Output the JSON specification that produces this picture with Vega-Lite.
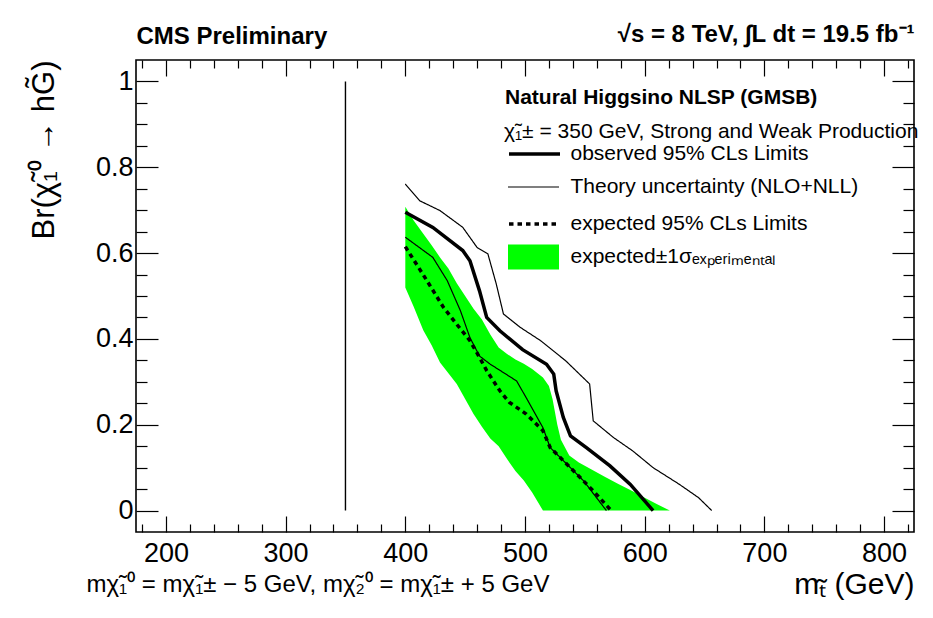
{
  "$schema": "https://vega.github.io/schema/vega-lite/v6.json",
  "width": 778,
  "height": 472,
  "autosize": {"type": "none"},
  "padding": {"left": 136, "top": 60, "right": 19, "bottom": 86},
  "background": "white",
  "config": {
    "view": {"stroke": "black", "strokeWidth": 1.6},
    "font": "Liberation Sans",
    "axis": {"domain": false, "grid": false, "tickColor": "black", "tickWidth": 1.2, "labelColor": "black", "titleColor": "black", "labelFont": "Liberation Sans", "titleFont": "Liberation Sans"},
    "legend": {"orient": "none", "direction": "vertical", "padding": 0, "labelFont": "Liberation Sans", "labelFontSize": 21, "labelColor": "black", "labelLimit": 600,
      "titleFont": "Liberation Sans", "titleFontSize": 21, "titleFontWeight": "bold", "titleColor": "black", "titleLimit": 600,
      "symbolSize": 400, "symbolOffset": 0, "labelOffset": 26, "symbolType": "M-2.55,0H2.55"}
  },
  "datasets": {
    "band": [
      {"m": 400, "up": 0.708, "lo": 0.52, "series": "expected\u00b11\u03c3\u2091\u2093\u209a\u2091\u1d63\u1d62\u2098\u2091\u2099\u209c\u2090\u2097"},
      {"m": 407, "up": 0.676, "lo": 0.475, "series": "expected\u00b11\u03c3\u2091\u2093\u209a\u2091\u1d63\u1d62\u2098\u2091\u2099\u209c\u2090\u2097"},
      {"m": 415, "up": 0.645, "lo": 0.42, "series": "expected\u00b11\u03c3\u2091\u2093\u209a\u2091\u1d63\u1d62\u2098\u2091\u2099\u209c\u2090\u2097"},
      {"m": 422, "up": 0.618, "lo": 0.385, "series": "expected\u00b11\u03c3\u2091\u2093\u209a\u2091\u1d63\u1d62\u2098\u2091\u2099\u209c\u2090\u2097"},
      {"m": 429, "up": 0.59, "lo": 0.345, "series": "expected\u00b11\u03c3\u2091\u2093\u209a\u2091\u1d63\u1d62\u2098\u2091\u2099\u209c\u2090\u2097"},
      {"m": 436, "up": 0.564, "lo": 0.32, "series": "expected\u00b11\u03c3\u2091\u2093\u209a\u2091\u1d63\u1d62\u2098\u2091\u2099\u209c\u2090\u2097"},
      {"m": 443, "up": 0.53, "lo": 0.295, "series": "expected\u00b11\u03c3\u2091\u2093\u209a\u2091\u1d63\u1d62\u2098\u2091\u2099\u209c\u2090\u2097"},
      {"m": 450, "up": 0.5, "lo": 0.26, "series": "expected\u00b11\u03c3\u2091\u2093\u209a\u2091\u1d63\u1d62\u2098\u2091\u2099\u209c\u2090\u2097"},
      {"m": 457, "up": 0.47, "lo": 0.225, "series": "expected\u00b11\u03c3\u2091\u2093\u209a\u2091\u1d63\u1d62\u2098\u2091\u2099\u209c\u2090\u2097"},
      {"m": 464, "up": 0.445, "lo": 0.195, "series": "expected\u00b11\u03c3\u2091\u2093\u209a\u2091\u1d63\u1d62\u2098\u2091\u2099\u209c\u2090\u2097"},
      {"m": 471, "up": 0.41, "lo": 0.168, "series": "expected\u00b11\u03c3\u2091\u2093\u209a\u2091\u1d63\u1d62\u2098\u2091\u2099\u209c\u2090\u2097"},
      {"m": 478, "up": 0.38, "lo": 0.15, "series": "expected\u00b11\u03c3\u2091\u2093\u209a\u2091\u1d63\u1d62\u2098\u2091\u2099\u209c\u2090\u2097"},
      {"m": 485, "up": 0.365, "lo": 0.12, "series": "expected\u00b11\u03c3\u2091\u2093\u209a\u2091\u1d63\u1d62\u2098\u2091\u2099\u209c\u2090\u2097"},
      {"m": 492, "up": 0.352, "lo": 0.092, "series": "expected\u00b11\u03c3\u2091\u2093\u209a\u2091\u1d63\u1d62\u2098\u2091\u2099\u209c\u2090\u2097"},
      {"m": 499, "up": 0.342, "lo": 0.07, "series": "expected\u00b11\u03c3\u2091\u2093\u209a\u2091\u1d63\u1d62\u2098\u2091\u2099\u209c\u2090\u2097"},
      {"m": 506, "up": 0.33, "lo": 0.042, "series": "expected\u00b11\u03c3\u2091\u2093\u209a\u2091\u1d63\u1d62\u2098\u2091\u2099\u209c\u2090\u2097"},
      {"m": 515, "up": 0.31, "lo": 0.0, "series": "expected\u00b11\u03c3\u2091\u2093\u209a\u2091\u1d63\u1d62\u2098\u2091\u2099\u209c\u2090\u2097"},
      {"m": 520, "up": 0.29, "lo": 0.0, "series": "expected\u00b11\u03c3\u2091\u2093\u209a\u2091\u1d63\u1d62\u2098\u2091\u2099\u209c\u2090\u2097"},
      {"m": 523, "up": 0.26, "lo": 0.0, "series": "expected\u00b11\u03c3\u2091\u2093\u209a\u2091\u1d63\u1d62\u2098\u2091\u2099\u209c\u2090\u2097"},
      {"m": 527, "up": 0.2, "lo": 0.0, "series": "expected\u00b11\u03c3\u2091\u2093\u209a\u2091\u1d63\u1d62\u2098\u2091\u2099\u209c\u2090\u2097"},
      {"m": 530, "up": 0.165, "lo": 0.0, "series": "expected\u00b11\u03c3\u2091\u2093\u209a\u2091\u1d63\u1d62\u2098\u2091\u2099\u209c\u2090\u2097"},
      {"m": 537, "up": 0.128, "lo": 0.0, "series": "expected\u00b11\u03c3\u2091\u2093\u209a\u2091\u1d63\u1d62\u2098\u2091\u2099\u209c\u2090\u2097"},
      {"m": 545, "up": 0.112, "lo": 0.0, "series": "expected\u00b11\u03c3\u2091\u2093\u209a\u2091\u1d63\u1d62\u2098\u2091\u2099\u209c\u2090\u2097"},
      {"m": 556, "up": 0.095, "lo": 0.0, "series": "expected\u00b11\u03c3\u2091\u2093\u209a\u2091\u1d63\u1d62\u2098\u2091\u2099\u209c\u2090\u2097"},
      {"m": 567, "up": 0.078, "lo": 0.0, "series": "expected\u00b11\u03c3\u2091\u2093\u209a\u2091\u1d63\u1d62\u2098\u2091\u2099\u209c\u2090\u2097"},
      {"m": 578, "up": 0.062, "lo": 0.0, "series": "expected\u00b11\u03c3\u2091\u2093\u209a\u2091\u1d63\u1d62\u2098\u2091\u2099\u209c\u2090\u2097"},
      {"m": 590, "up": 0.045, "lo": 0.0, "series": "expected\u00b11\u03c3\u2091\u2093\u209a\u2091\u1d63\u1d62\u2098\u2091\u2099\u209c\u2090\u2097"},
      {"m": 600, "up": 0.03, "lo": 0.0, "series": "expected\u00b11\u03c3\u2091\u2093\u209a\u2091\u1d63\u1d62\u2098\u2091\u2099\u209c\u2090\u2097"},
      {"m": 610, "up": 0.015, "lo": 0.0, "series": "expected\u00b11\u03c3\u2091\u2093\u209a\u2091\u1d63\u1d62\u2098\u2091\u2099\u209c\u2090\u2097"},
      {"m": 621, "up": 0.0, "lo": 0.0, "series": "expected\u00b11\u03c3\u2091\u2093\u209a\u2091\u1d63\u1d62\u2098\u2091\u2099\u209c\u2090\u2097"}
    ],
    "theory": [
      {"curve": "up", "m": 400, "br": 0.761}, {"curve": "up", "m": 412, "br": 0.722}, {"curve": "up", "m": 429, "br": 0.699},
      {"curve": "up", "m": 448, "br": 0.66}, {"curve": "up", "m": 460, "br": 0.613}, {"curve": "up", "m": 469, "br": 0.598},
      {"curve": "up", "m": 476, "br": 0.528}, {"curve": "up", "m": 482, "br": 0.458}, {"curve": "up", "m": 496, "br": 0.427},
      {"curve": "up", "m": 513, "br": 0.396}, {"curve": "up", "m": 534, "br": 0.349}, {"curve": "up", "m": 554, "br": 0.295},
      {"curve": "up", "m": 557, "br": 0.209}, {"curve": "up", "m": 574, "br": 0.17}, {"curve": "up", "m": 590, "br": 0.139},
      {"curve": "up", "m": 607, "br": 0.1}, {"curve": "up", "m": 629, "br": 0.061}, {"curve": "up", "m": 645, "br": 0.03},
      {"curve": "up", "m": 656, "br": 0.0},
      {"curve": "down", "m": 400, "br": 0.637}, {"curve": "down", "m": 423, "br": 0.59}, {"curve": "down", "m": 435, "br": 0.536},
      {"curve": "down", "m": 446, "br": 0.466}, {"curve": "down", "m": 454, "br": 0.403}, {"curve": "down", "m": 462, "br": 0.36},
      {"curve": "down", "m": 471, "br": 0.341}, {"curve": "down", "m": 493, "br": 0.302}, {"curve": "down", "m": 501, "br": 0.263},
      {"curve": "down", "m": 515, "br": 0.193}, {"curve": "down", "m": 521, "br": 0.147}, {"curve": "down", "m": 535, "br": 0.108},
      {"curve": "down", "m": 549, "br": 0.069}, {"curve": "down", "m": 568, "br": 0.0}
    ],
    "expected": [
      {"m": 400, "br": 0.615}, {"m": 418, "br": 0.536}, {"m": 432, "br": 0.473}, {"m": 443, "br": 0.434},
      {"m": 454, "br": 0.396}, {"m": 462, "br": 0.357}, {"m": 468, "br": 0.326}, {"m": 479, "br": 0.279},
      {"m": 487, "br": 0.252}, {"m": 501, "br": 0.225}, {"m": 515, "br": 0.186}, {"m": 521, "br": 0.147},
      {"m": 535, "br": 0.108}, {"m": 557, "br": 0.046}, {"m": 572, "br": 0.0}
    ],
    "observed": [
      {"m": 400, "br": 0.695}, {"m": 423, "br": 0.66}, {"m": 448, "br": 0.606}, {"m": 454, "br": 0.582},
      {"m": 462, "br": 0.512}, {"m": 468, "br": 0.45}, {"m": 479, "br": 0.419}, {"m": 498, "br": 0.375},
      {"m": 518, "br": 0.341}, {"m": 524, "br": 0.318}, {"m": 526, "br": 0.279}, {"m": 532, "br": 0.217},
      {"m": 538, "br": 0.174}, {"m": 551, "br": 0.147}, {"m": 571, "br": 0.104}, {"m": 588, "br": 0.061},
      {"m": 607, "br": 0.0}
    ],
    "chargino": [{"m": 350, "lo": 0, "hi": 1, "note": "\u03c7\u0303\u2081\u00b1 = 350 GeV, Strong and Weak Production"}]
  },
  "layer": [
    {
      "data": {"name": "band"},
      "mark": {"type": "area", "opacity": 1, "interpolate": "linear"},
      "encoding": {
        "x": {"field": "m", "type": "quantitative",
          "scale": {"domain": [175, 825], "nice": false, "zero": false},
          "axis": {"orient": "bottom", "values": [200, 300, 400, 500, 600, 700, 800], "format": "d", "ticks": false, "labelFontSize": 27, "labelPadding": 8, "labelFlush": false,
            "title": "m\u209c\u0303 (GeV)", "titleFontSize": 30, "titleFontWeight": "normal", "titleAnchor": "end", "titleAlign": "right", "titleBaseline": "alphabetic", "titleX": 778, "titleY": 61}},
        "y": {"field": "up", "type": "quantitative",
          "scale": {"domain": [-0.05, 1.05], "nice": false, "zero": false},
          "axis": {"orient": "left", "values": [0, 0.2, 0.4, 0.6, 0.8, 1], "format": "~g", "ticks": false, "labelFontSize": 27, "labelPadding": 3, "labelFlush": false,
            "title": "Br(\u03c7\u0303\u2081\u2070 \u2192 hG\u0303)", "titleFontSize": 31, "titleFontWeight": "normal", "titleAngle": -90, "titleAlign": "right", "titleBaseline": "alphabetic", "titleX": -83, "titleY": 0}},
        "y2": {"field": "lo"},
        "color": {"field": "series", "type": "nominal",
          "scale": {"range": ["#00ff00"]},
          "legend": {"title": null, "legendX": 386.5, "legendY": 186, "symbolType": "M-2.55,-1.25H2.55V1.25H-2.55Z"}
        }
      }
    },
    {
      "data": {"name": "theory"},
      "mark": {"type": "line", "color": "black", "strokeWidth": 1.2},
      "encoding": {
        "x": {"field": "m", "type": "quantitative",
          "axis": {"orient": "bottom", "values": [200, 300, 400, 500, 600, 700, 800], "labels": false, "tickSize": 16, "offset": -16, "title": null}},
        "y": {"field": "br", "type": "quantitative",
          "axis": {"orient": "left", "values": [0, 0.2, 0.4, 0.6, 0.8, 1], "labels": false, "tickSize": 22, "offset": -22, "title": null}},
        "detail": {"field": "curve"},
        "strokeDash": {"datum": "Theory uncertainty (NLO+NLL)", "type": "nominal",
          "scale": {"range": [[1, 0]]},
          "legend": {"title": null, "legendX": 386.5, "legendY": 116, "symbolStrokeWidth": 1.2, "symbolStrokeColor": "black"}}
      }
    },
    {
      "data": {"name": "expected"},
      "mark": {"type": "line", "color": "black", "strokeWidth": 3.5, "strokeDash": [4.5, 4]},
      "encoding": {
        "x": {"field": "m", "type": "quantitative",
          "axis": {"orient": "bottom", "values": [180, 220, 240, 260, 280, 320, 340, 360, 380, 420, 440, 460, 480, 520, 540, 560, 580, 620, 640, 660, 680, 720, 740, 760, 780, 820], "labels": false, "tickSize": 8, "offset": -8,
            "title": "m\u03c7\u0303\u2081\u2070 = m\u03c7\u0303\u2081\u00b1 \u2212 5 GeV, m\u03c7\u0303\u2082\u2070 = m\u03c7\u0303\u2081\u00b1 + 5 GeV", "titleFontSize": 24, "titleFontWeight": "normal", "titleAnchor": "start", "titleAlign": "left", "titleBaseline": "alphabetic", "titleX": -50, "titleY": 67}},
        "y": {"field": "br", "type": "quantitative",
          "axis": {"orient": "left", "values": [0.05, 0.1, 0.15, 0.25, 0.3, 0.35, 0.45, 0.5, 0.55, 0.65, 0.7, 0.75, 0.85, 0.9, 0.95], "labels": false, "tickSize": 11, "offset": -11, "title": null}},
        "strokeWidth": {"datum": "expected 95% CLs Limits", "type": "nominal",
          "scale": {"range": [3.5, 3.5]},
          "legend": {"title": null, "legendX": 386.5, "legendY": 152, "symbolDash": [4.5, 4], "labelOffset": 24}}
      }
    },
    {
      "data": {"name": "observed"},
      "mark": {"type": "line", "color": "black", "strokeWidth": 3.5},
      "encoding": {
        "x": {"field": "m", "type": "quantitative",
          "axis": {"orient": "top", "values": [200, 300, 400, 500, 600, 700, 800], "labels": false, "tickSize": 16, "offset": -16,
            "title": "CMS Preliminary", "titleFontSize": 24, "titleFontWeight": "bold", "titleAnchor": "start", "titleAlign": "left", "titleBaseline": "alphabetic", "titleX": 0, "titleY": -33}},
        "y": {"field": "br", "type": "quantitative",
          "axis": {"orient": "right", "values": [0, 0.2, 0.4, 0.6, 0.8, 1], "labels": false, "tickSize": 22, "offset": -22, "title": null}},
        "stroke": {"datum": "observed 95% CLs Limits", "type": "nominal",
          "scale": {"range": ["black"]},
          "legend": {"title": null, "legendX": 386.5, "legendY": 82, "symbolStrokeWidth": 3.5, "labelOffset": 24}}
      }
    },
    {
      "data": {"name": "chargino"},
      "mark": {"type": "rule", "color": "black", "strokeWidth": 1.4},
      "encoding": {
        "x": {"field": "m", "type": "quantitative",
          "axis": {"orient": "top", "values": [180, 220, 240, 260, 280, 320, 340, 360, 380, 420, 440, 460, 480, 520, 540, 560, 580, 620, 640, 660, 680, 720, 740, 760, 780, 820], "labels": false, "tickSize": 8, "offset": -8,
            "title": "\u221as = 8 TeV, \u222bL dt = 19.5 fb\u207b\u00b9", "titleFontSize": 24, "titleFontWeight": "bold", "titleAnchor": "end", "titleAlign": "right", "titleBaseline": "alphabetic", "titleX": 778, "titleY": -27}},
        "y": {"field": "lo", "type": "quantitative",
          "axis": {"orient": "right", "values": [0.05, 0.1, 0.15, 0.25, 0.3, 0.35, 0.45, 0.5, 0.55, 0.65, 0.7, 0.75, 0.85, 0.9, 0.95], "labels": false, "tickSize": 11, "offset": -11, "title": null}},
        "y2": {"field": "hi"},
        "opacity": {"field": "note", "type": "nominal",
          "scale": {"range": [1, 1]},
          "legend": {"title": "Natural Higgsino NLSP (GMSB)", "titlePadding": 13, "legendX": 369, "legendY": 27, "symbolType": "M0,0", "symbolSize": 0, "symbolStrokeWidth": 0, "labelOffset": -22}}
      }
    }
  ],
  "resolve": {"axis": {"x": "independent", "y": "independent"}}
}
